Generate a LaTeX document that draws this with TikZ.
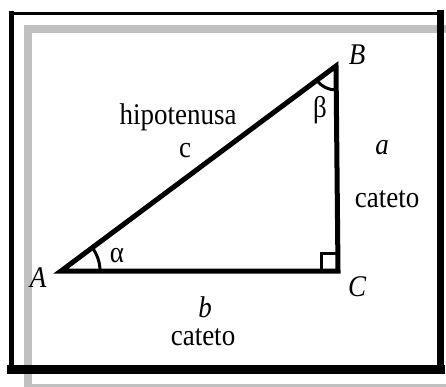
\documentclass[tikz,border=0pt]{standalone}
\usepackage{fontspec}
\setmainfont[FakeStretch=0.9]{Liberation Serif}
\usetikzlibrary{calc}
\begin{document}
\begin{tikzpicture}[x=1pt,y=-1pt,
  lbl/.style={inner sep=0pt, font=\fontsize{30}{33}\selectfont},
  side/.style={line width=5pt, line join=miter},
  anglemark/.style={line width=3pt}]
\useasboundingbox (0,0) rectangle (446,387);
\clip (0,0) rectangle (446,387);
\fill[white] (0,0) rectangle (446,387);
% gray shadow frame
\draw[line width=8pt, color={rgb,255:red,192;green,192;blue,192}] (28,29) rectangle (452,388);
% black frame
\draw[line width=5pt, line cap=rect] (11.5,13.5) -- (11.5,369.5);
\draw[line width=3.5pt, line cap=rect] (11.5,13.5) -- (440,13.5);
\draw[line width=7pt, line cap=rect] (440,13.5) -- (440,369.5);
\draw[line width=9pt, line cap=rect] (11.5,369.5) -- (440,369.5);
% triangle
\coordinate (A) at (61,271);
\coordinate (B) at (336,66);
\coordinate (C) at (338,271);
\draw[side] (A) -- (B) -- (C) -- cycle;
% right angle mark
\draw[anglemark] ($(C)+(-17,0)$) |- ($(C)+(0,-18)$);
% alpha arc
\draw[anglemark] ($(A)+(39,0)$) arc[start angle=0, end angle=-37, radius=39];
% beta arc
\draw[anglemark] ($(B)+(89.4:24)$) arc[start angle=89.4, end angle=143, radius=24];
% labels
\node[lbl] (lA) at (38,278) {\itshape A};
\node[lbl] (lB) at (357,55) {\itshape B};
\node[lbl] (lC) at (357,287) {\itshape C};
\node[lbl] (lalpha) at (117,256) {α};
\node[lbl] (lbeta) at (320,110) {β};
\node[lbl] (lhyp) at (178,117) {hipotenusa};
\node[lbl] (lc) at (185,151) {c};
\node[lbl] (la) at (382,148) {\itshape a};
\node[lbl] (lcatA) at (387,199) {cateto};
\node[lbl] (lb) at (205,307) {\itshape b};
\node[lbl] (lcatB) at (203,337) {cateto};
\end{tikzpicture}
\end{document}
